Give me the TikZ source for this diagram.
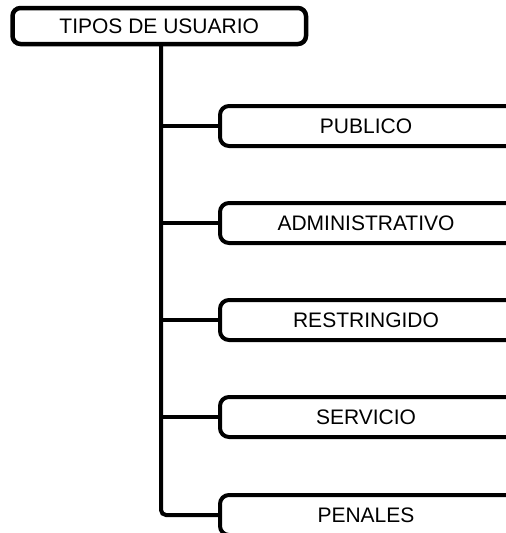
\documentclass[tikz,border=0pt]{standalone}
\usepackage{fontspec}
\setmainfont{Liberation Sans}
\begin{document}
\begin{tikzpicture}[x=1pt,y=-1pt,
  rootbox/.style={draw, line width=4.5pt, rounded corners=8pt, minimum width=293.5pt, minimum height=36pt, inner sep=0pt, font=\fontsize{21}{25}\selectfont},
  childbox/.style={draw, line width=4pt, rounded corners=9pt, minimum width=306pt, minimum height=40pt, inner sep=0pt, font=\fontsize{21}{25}\selectfont, execute at begin node={\hspace*{-14pt}}},
  link/.style={line width=4pt}]
\useasboundingbox (0,0) rectangle (506,533);
\clip (0,0) rectangle (506,533);
\node[rootbox] (root) at (159.25,26) {TIPOS DE USUARIO};
\node[childbox] (publico) at (373,126) {PUBLICO};
\node[childbox] (admin) at (373,223) {ADMINISTRATIVO};
\node[childbox] (restr) at (373,320) {RESTRINGIDO};
\node[childbox] (serv) at (373,417) {SERVICIO};
\node[childbox] (penales) at (373,515) {PENALES};
\coordinate (vtop) at (161,44);
\draw[link, rounded corners=5pt] (vtop) |- (penales.west);
\draw[link] (publico.west -| vtop) -- (publico.west);
\draw[link] (admin.west -| vtop) -- (admin.west);
\draw[link] (restr.west -| vtop) -- (restr.west);
\draw[link] (serv.west -| vtop) -- (serv.west);
\end{tikzpicture}
\end{document}
